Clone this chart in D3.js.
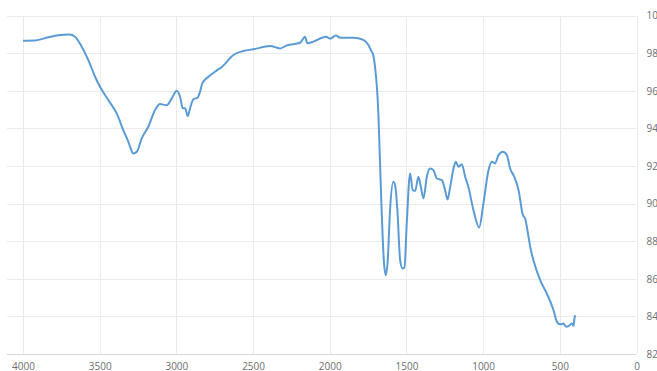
<!DOCTYPE html>
<html>
<head>
<meta charset="utf-8">
<script src="https://cdn.jsdelivr.net/npm/d3@7"></script>
<style>
  html, body { margin: 0; padding: 0; background: #fff; overflow: hidden; }
  svg { display: block; }
  .tick text { font-family: "Open Sans", sans-serif; font-size: 10px; fill: #6e6e6e; }
</style>
</head>
<body>
<svg id="chart"></svg>
<script>
// wavenumber (cm-1) and transmittance (%)
const wavenumber = [
  4000, 3922, 3835, 3770, 3698, 3661, 3617, 3574, 3530, 3498, 3444, 3389, 3346, 3313,
  3281, 3258, 3226, 3183, 3139, 3107, 3063, 3030, 2998, 2976, 2958, 2943, 2926, 2911,
  2889, 2861, 2846, 2831, 2791, 2748, 2700, 2628, 2563, 2498, 2389, 2324, 2280, 2193,
  2161, 2146, 2107, 2024, 1998, 1959, 1933, 1846, 1781, 1748, 1726, 1720, 1705, 1683,
  1672, 1661, 1646, 1635, 1622, 1607, 1585, 1572, 1559, 1541, 1526, 1513, 1498, 1476,
  1459, 1443, 1422, 1406, 1389, 1367, 1346, 1324, 1302, 1269, 1248, 1232, 1215, 1193,
  1178, 1161, 1139, 1117, 1096, 1063, 1026, 998, 965, 943, 922, 900, 871, 845,
  824, 797, 769, 741, 726, 704, 693, 672, 628, 585, 541, 519, 498, 476,
  460, 443, 421, 410, 406, 400
];
const transmittance = [
  98.67, 98.68, 98.85, 98.96, 99.00, 98.88, 98.35, 97.64, 96.75, 96.22, 95.51, 94.80, 93.91, 93.29,
  92.67, 92.76, 93.47, 94.09, 94.98, 95.30, 95.24, 95.60, 96.01, 95.69, 95.07, 95.07, 94.66, 95.07,
  95.55, 95.65, 95.95, 96.40, 96.75, 97.02, 97.30, 97.91, 98.12, 98.21, 98.39, 98.26, 98.42, 98.56,
  98.88, 98.53, 98.62, 98.88, 98.78, 98.94, 98.83, 98.83, 98.71, 98.44, 98.08, 98.00, 97.30, 94.80,
  92.14, 89.48, 86.82, 86.19, 86.99, 89.65, 91.16, 90.89, 89.65, 86.99, 86.55, 86.60, 88.95, 91.61,
  90.72, 90.68, 91.43, 90.89, 90.28, 91.43, 91.87, 91.78, 91.34, 91.25, 90.72, 90.22, 90.89, 91.87,
  92.23, 91.96, 92.10, 91.43, 90.89, 89.65, 88.73, 90.01, 91.78, 92.23, 92.14, 92.58, 92.76, 92.58,
  91.87, 91.43, 90.72, 89.40, 89.21, 88.23, 87.70, 86.99, 85.93, 85.22, 84.33, 83.71, 83.58, 83.62,
  83.45, 83.48, 83.62, 83.50, 83.80, 84.06
];
const xTicks = [4000, 3500, 3000, 2500, 2000, 1500, 1000, 500, 0];
const yTicks = [82, 84, 86, 88, 90, 92, 94, 96, 98, 100];

const width = 657, height = 371;
const margin = { top: 15.7, right: 20.5, bottom: 17, left: 23 };

const svg = d3.select("#chart").attr("width", width).attr("height", height);

const x = d3.scaleLinear().domain([4000, 0]).range([margin.left, width - margin.right]);
const y = d3.scaleLinear().domain([82, 100]).range([height - margin.bottom, margin.top]);

// horizontal gridlines
svg.append("g")
  .selectAll("line")
  .data(yTicks)
  .join("line")
  .attr("x1", margin.left - 16)
  .attr("x2", x(0))
  .attr("y1", d => Math.round(y(d)) + 0.5)
  .attr("y2", d => Math.round(y(d)) + 0.5)
  .attr("stroke", d => d === 82 ? "#d9d9d9" : "#ebebeb")
  .attr("stroke-width", 1);

// vertical gridlines
svg.append("g")
  .selectAll("line")
  .data(xTicks)
  .join("line")
  .attr("x1", d => Math.round(x(d)) + 0.5)
  .attr("x2", d => Math.round(x(d)) + 0.5)
  .attr("y1", y(100))
  .attr("y2", y(82))
  .attr("stroke", "#ebebeb")
  .attr("stroke-width", 1);

// x axis labels
svg.append("g")
  .attr("transform", `translate(0,${y(82)})`)
  .call(d3.axisBottom(x).tickValues(xTicks).tickSize(0).tickPadding(9).tickFormat(d3.format("d")))
  .call(g => g.select(".domain").remove());

// y axis labels (right side)
svg.append("g")
  .attr("transform", `translate(${x(0)},0)`)
  .call(d3.axisRight(y).tickValues(yTicks).tickSize(0).tickPadding(10).tickFormat(d3.format("d")))
  .call(g => g.select(".domain").remove());

// spectrum line
const data = wavenumber.map((w, i) => ({ w, t: transmittance[i] }));
svg.append("path")
  .datum(data)
  .attr("fill", "none")
  .attr("stroke", "#5b9bd5")
  .attr("stroke-width", 2)
  .attr("stroke-linejoin", "round")
  .attr("d", d3.line().x(d => x(d.w)).y(d => y(d.t)).curve(d3.curveMonotoneX));
</script>
</body>
</html>
